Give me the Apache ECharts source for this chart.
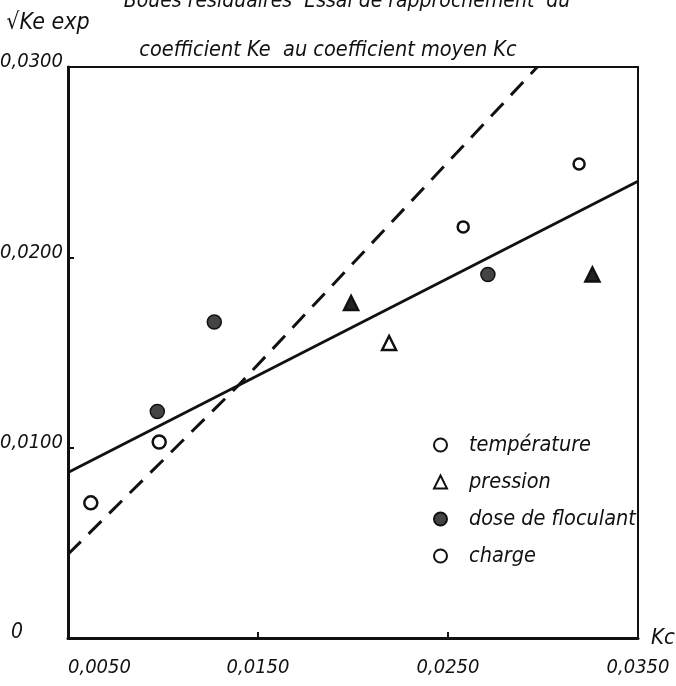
<!DOCTYPE html>
<html>
<head>
<meta charset="utf-8">
<script src="https://cdn.jsdelivr.net/npm/echarts@6/dist/echarts.min.js"></script>
<style>
html,body{margin:0;padding:0;background:#fff;}
#chart{width:676px;height:686px;}
</style>
</head>
<body>
<div id="chart"></div>
<script>
// ---- data ----
const xTickValues = [0.0050, 0.0150, 0.0250, 0.0350];
const yTickValues = [0, 0.0100, 0.0200, 0.0300];
const seriesNames = ['température', 'pression', 'dose de floculant', 'charge'];
const temperature = [[0.0062, 0.0071], [0.0098, 0.0103]];
const pression = [[0.0199, 0.0176], [0.0219, 0.0155], [0.0326, 0.0191]];
const pressionFilled = [true, false, true];
const dose = [[0.0097, 0.0119], [0.0127, 0.0166], [0.0271, 0.0191]];
const charge = [[0.0258, 0.0216], [0.0319, 0.0249]];
const fitSolid = [[0.0050, 0.0087], [0.0350, 0.0240]];
const fitDashed = [[0.0050, 0.0044], [0.0139, 0.0132], [0.0297, 0.0300]];
const titleLine1 = 'Boues résiduaires  Essai de rapprochement  du';
const titleLine2 = 'coefficient Ke  au coefficient moyen Kc';

const FONT = "'DejaVu Sans Condensed', 'Liberation Sans Narrow', sans-serif";
const txt = (size) => ({ fontFamily: FONT, fontStyle: 'italic', fontWeight: 'normal', fontSize: size, color: '#111' });
const fmt = (v) => v.toFixed(4).replace('.', ',');

const chart = echarts.init(document.getElementById('chart'), null, { renderer: 'canvas' });

const option = {
  animation: false,
  backgroundColor: '#fff',
  title: [
    { text: titleLine1, left: 342, top: -14, textAlign: 'center', textStyle: txt(21) },
    { text: titleLine2, left: 323, top: 34, textAlign: 'center', textStyle: txt(21.5) }
  ],
  grid: {
    left: 68, right: 38, top: 67, bottom: 48,
    outerBoundsMode: 'none', containLabel: false,
    show: true, borderColor: '#111', borderWidth: 2, backgroundColor: 'transparent'
  },
  legend: {
    orient: 'vertical', left: 428, top: 429, itemGap: 15, itemWidth: 13, itemHeight: 13,
    data: seriesNames,
    textStyle: Object.assign(txt(21.5), { padding: [0, 0, 0, 17] })
  },
  xAxis: {
    type: 'value',
    min: xTickValues[0], max: xTickValues[xTickValues.length - 1], interval: xTickValues[1] - xTickValues[0],
    name: 'Kc', nameLocation: 'end', nameGap: 13,
    nameTextStyle: Object.assign(txt(22), { padding: [0, 0, 12, 0] }),
    axisLine: { show: true, lineStyle: { color: '#111', width: 3 } },
    axisTick: { show: true, inside: true, length: 6, lineStyle: { color: '#111', width: 2 } },
    splitLine: { show: false },
    axisLabel: Object.assign(txt(20), { margin: 20, alignMinLabel: 'left', alignMaxLabel: 'right', formatter: (v) => fmt(v) })
  },
  yAxis: {
    type: 'value',
    min: yTickValues[0], max: yTickValues[yTickValues.length - 1], interval: yTickValues[1] - yTickValues[0],
    name: '√Ke exp', nameLocation: 'end', nameGap: 32,
    nameTextStyle: Object.assign(txt(23), { align: 'center', padding: [0, 40, 0, 0] }),
    axisLine: { show: true, lineStyle: { color: '#111', width: 3 } },
    axisTick: { show: true, inside: true, length: 6, lineStyle: { color: '#111', width: 2 } },
    splitLine: { show: false },
    axisLabel: Object.assign(txt(20), {
      margin: 5, padding: [0, 0, 10, 0],
      formatter: (v) => (v === 0 ? '{z|0}' : fmt(v)),
      rich: { z: Object.assign(txt(21), { padding: [0, 40, 0, 0] }) }
    })
  },
  series: [
    {
      name: 'fit', type: 'line', data: fitSolid, symbol: 'none', silent: true,
      lineStyle: { color: '#111', width: 2.8, type: 'solid' }, z: 1
    },
    {
      name: 'fit2', type: 'line', data: fitDashed, symbol: 'none', silent: true,
      lineStyle: { color: '#111', width: 3, type: [18, 11] }, z: 1
    },
    {
      name: seriesNames[0], type: 'scatter', data: temperature, symbol: 'circle', symbolSize: 13,
      itemStyle: { color: '#fff', borderColor: '#111', borderWidth: 2.5, opacity: 1 }, z: 3
    },
    {
      name: seriesNames[1], type: 'scatter', symbol: 'triangle', symbolSize: 14,
      data: pression.map((p, i) => ({ value: p, itemStyle: { color: pressionFilled[i] ? '#222' : '#fff' } })),
      itemStyle: { color: '#fff', borderColor: '#111', borderWidth: 2.5, opacity: 1 }, z: 3
    },
    {
      name: seriesNames[2], type: 'scatter', data: dose, symbol: 'circle', symbolSize: 14,
      itemStyle: { color: '#444', borderColor: '#111', borderWidth: 1.5, opacity: 1 }, z: 3
    },
    {
      name: seriesNames[3], type: 'scatter', data: charge, symbol: 'circle', symbolSize: 11,
      itemStyle: { color: '#fff', borderColor: '#111', borderWidth: 2.5, opacity: 1 }, z: 3
    }
  ]
};
chart.setOption(option);
</script>
</body>
</html>
